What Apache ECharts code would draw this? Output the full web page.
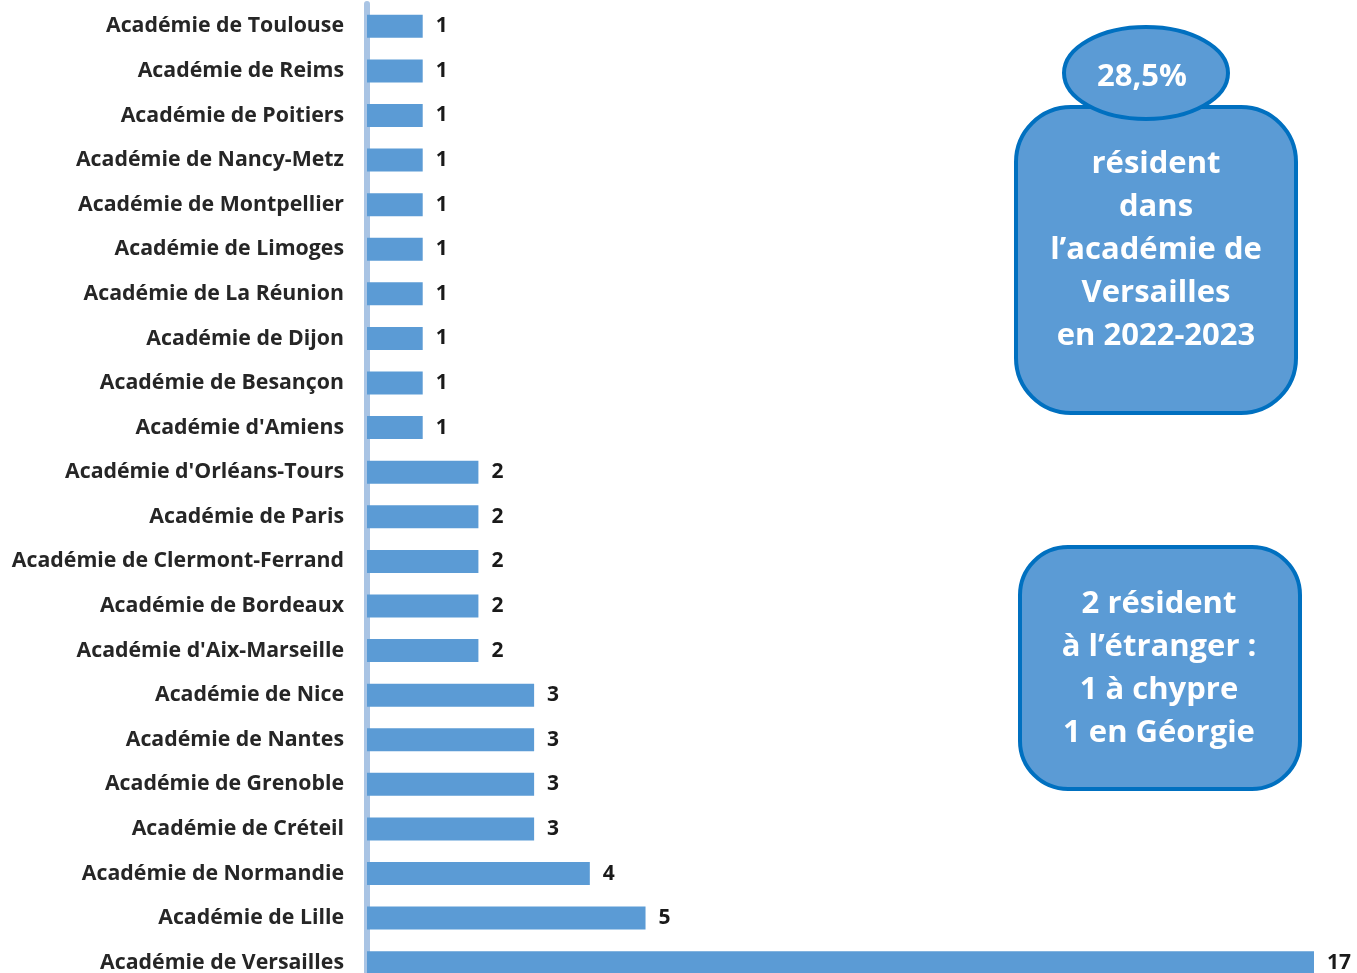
<!DOCTYPE html>
<html>
<head>
<meta charset="utf-8">
<script src="https://cdn.jsdelivr.net/npm/echarts@6/dist/echarts.min.js"></script>
<style>
html, body { margin: 0; padding: 0; background: #fff; }
#chart { width: 1357px; height: 973px; }
</style>
</head>
<body>
<div id="chart"></div>
<script>
// académies, du haut vers le bas
const academies = [
  "Académie de Toulouse", "Académie de Reims", "Académie de Poitiers",
  "Académie de Nancy-Metz", "Académie de Montpellier", "Académie de Limoges",
  "Académie de La Réunion", "Académie de Dijon", "Académie de Besançon",
  "Académie d'Amiens", "Académie d'Orléans-Tours", "Académie de Paris",
  "Académie de Clermont-Ferrand", "Académie de Bordeaux", "Académie d'Aix-Marseille",
  "Académie de Nice", "Académie de Nantes", "Académie de Grenoble",
  "Académie de Créteil", "Académie de Normandie", "Académie de Lille",
  "Académie de Versailles"
];
const effectifs = [1, 1, 1, 1, 1, 1, 1, 1, 1, 1, 2, 2, 2, 2, 2, 3, 3, 3, 3, 4, 5, 17];

const pourcentage = "28,5%";
const texteVersailles = "résident\ndans\nl’académie de\nVersailles\nen 2022-2023";
const texteEtranger = "2 résident\nà l’étranger :\n1 à chypre\n1 en Géorgie";

const font = "Open Sans";
const fill = "#5b9bd5";
const border = "#0070c0";

const chart = echarts.init(document.getElementById("chart"));
chart.setOption({
  animation: false,
  grid: { left: 367, top: 4, width: 947, height: 981, outerBoundsMode: "none" },
  xAxis: {
    type: "value", min: 0, max: 17, show: false
  },
  yAxis: {
    type: "category",
    inverse: true,
    data: academies,
    offset: 3,
    axisLine: { lineStyle: { color: "#a9c4e4", width: 6 } },
    axisTick: { show: false },
    axisLabel: {
      margin: 20,
      fontFamily: font,
      fontWeight: "bold",
      fontSize: 21.3,
      color: "#262626"
    }
  },
  series: [{
    type: "bar",
    data: effectifs,
    barWidth: 23,
    itemStyle: { color: fill },
    label: {
      show: true,
      position: "right",
      distance: 13,
      fontFamily: font,
      fontWeight: "bold",
      fontSize: 21,
      color: "#1a1a1a"
    }
  }],
  graphic: [
    {
      type: "rect",
      shape: { x: 1016, y: 107, width: 280, height: 306, r: 55 },
      style: { fill: fill, stroke: border, lineWidth: 4 }
    },
    {
      type: "ellipse",
      shape: { cx: 1146, cy: 73, rx: 82, ry: 46 },
      style: { fill: fill, stroke: border, lineWidth: 4 }
    },
    {
      type: "text",
      x: 1142, y: 77,
      style: {
        text: pourcentage, fill: "#fff", font: "bold 31px " + font,
        align: "center", verticalAlign: "middle"
      }
    },
    {
      type: "text",
      x: 1156, y: 250,
      style: {
        text: texteVersailles, fill: "#fff", font: "bold 31px " + font,
        lineHeight: 43, align: "center", verticalAlign: "middle"
      }
    },
    {
      type: "rect",
      shape: { x: 1020, y: 547, width: 280, height: 242, r: 48 },
      style: { fill: fill, stroke: border, lineWidth: 4 }
    },
    {
      type: "text",
      x: 1159, y: 669,
      style: {
        text: texteEtranger, fill: "#fff", font: "bold 31px " + font,
        lineHeight: 43, align: "center", verticalAlign: "middle"
      }
    }
  ]
});
</script>
</body>
</html>
